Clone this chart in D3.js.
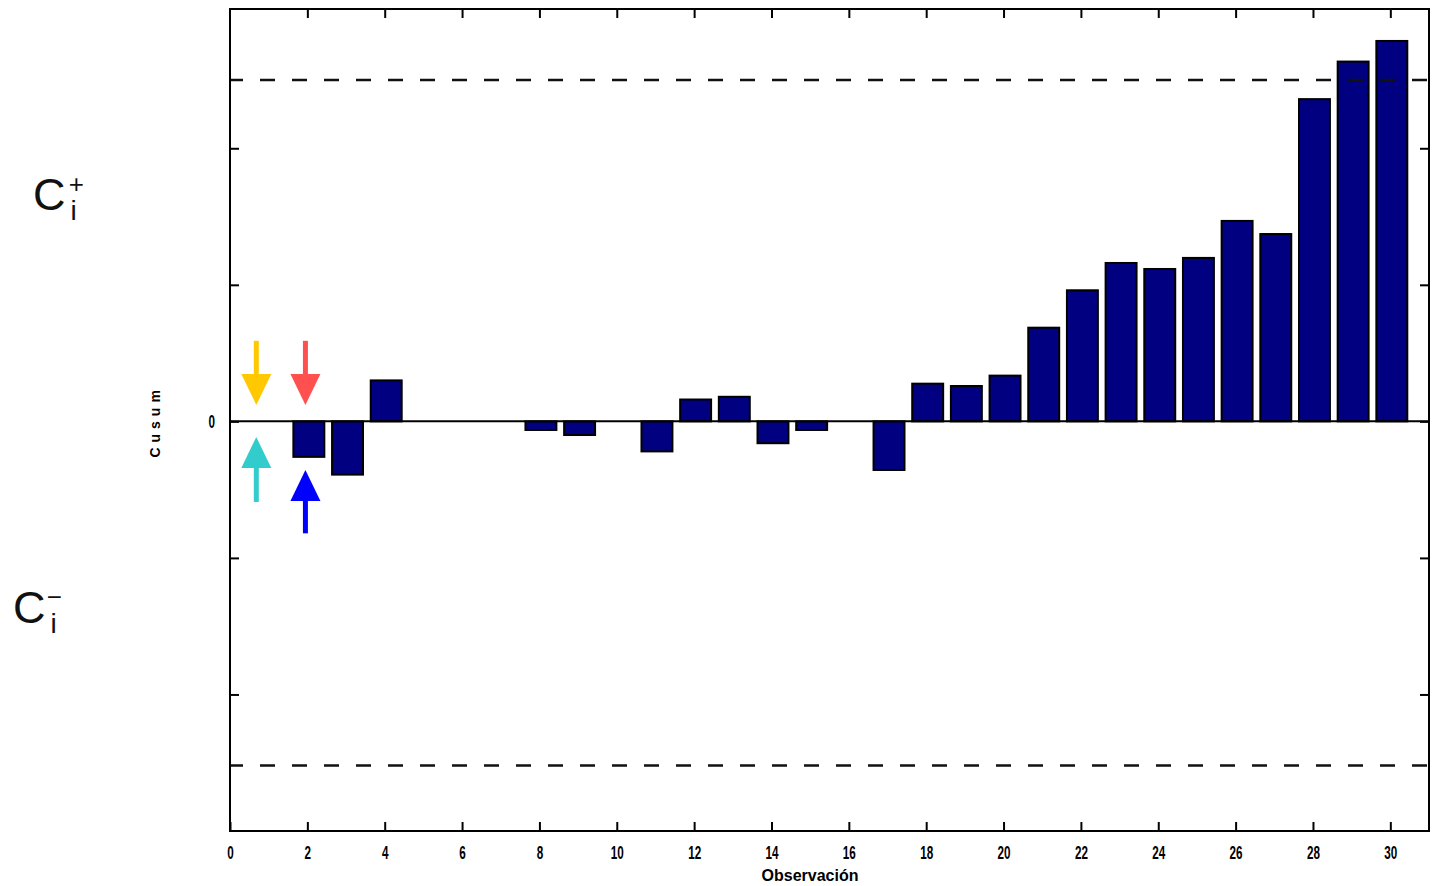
<html>
<head>
<meta charset="utf-8">
<style>
  body { margin: 0; background: #fff; }
  svg { display: block; }
  text { font-family: "Liberation Sans", Arial, sans-serif; }
</style>
</head>
<body>
<script src="https://d3js.org/d3.v7.min.js"></script>
<script type="text/javascript">
// observations 1..30 and their cusum values
var obs = d3.range(1, 31);
var cusum = [0, -0.26, -0.39, 0.30, 0, 0, 0, -0.063, -0.10, 0,
             -0.22, 0.16, 0.18, -0.16, -0.063, 0, -0.356, 0.276, 0.259, 0.335,
             0.686, 0.96, 1.16, 1.116, 1.197, 1.468, 1.372, 2.36, 2.635, 2.786];
var limits = [2.5, -2.52];
var xTicks = d3.range(0, 31, 2);
var yTicks = [-2, -1, 0, 1, 2];
// arrows: x position, tail value, tip value, colour
var arrows = [
  {x: 0.68, from: 0.59, to: 0.12, color: "#ffc800"},
  {x: 1.95, from: 0.59, to: 0.12, color: "#ff5050"},
  {x: 0.68, from: -0.59, to: -0.114, color: "#33cccc"},
  {x: 1.95, from: -0.82, to: -0.356, color: "#0000ff"}
];

var W = 1432, H = 886;
var svg = d3.select("body").append("svg").attr("width", W).attr("height", H);

var xMax = 31;
var x = d3.scaleLinear().domain([0, xMax]).range([230, 1429]);
var y = d3.scaleLinear().domain([-3, 3.02]).range([831, 9]);
var bw = (x(0.8) - x(0));
var shift = 1.5; // bars sit slightly right of the ticks in the original

// bars
svg.selectAll("rect.bar").data(obs.filter(function(d, i){ return cusum[i] != 0; }))
  .enter().append("rect")
  .attr("class", "bar")
  .attr("x", function(d){ return x(d) - bw/2 + shift; })
  .attr("width", bw)
  .attr("y", function(d){ return y(Math.max(0, cusum[d-1])); })
  .attr("height", function(d){ return Math.abs(y(cusum[d-1]) - y(0)); })
  .attr("fill", "#000080")
  .attr("stroke", "black")
  .attr("stroke-width", 2);

// zero line
svg.append("line")
  .attr("x1", x(0)).attr("x2", x(xMax))
  .attr("y1", y(0)).attr("y2", y(0))
  .attr("stroke", "black").attr("stroke-width", 2);

// decision limits
svg.selectAll("line.lim").data(limits).enter().append("line")
  .attr("class", "lim")
  .attr("x1", x(0)).attr("x2", x(xMax))
  .attr("y1", function(d){ return y(d); })
  .attr("y2", function(d){ return y(d); })
  .attr("stroke", "#111").attr("stroke-width", 2.5)
  .attr("stroke-dasharray", "15,17")
  .attr("stroke-dashoffset", 2);

// frame + ticks via axes
var tl = 9;
var tickFont = function(sel){
  sel.attr("font-size", 18).attr("font-weight", "bold")
     .attr("font-family", "'Liberation Sans', Arial, sans-serif")
     .attr("transform", "scale(0.65,1)");
};
svg.append("g").attr("transform", "translate(0," + y(-3) + ")")
  .call(d3.axisBottom(x).tickValues(xTicks).tickSizeInner(-tl).tickSizeOuter(0).tickPadding(15))
  .call(function(g){
    g.select(".domain").remove();
    g.selectAll("line").attr("stroke-width", 2);
    g.selectAll("text").call(tickFont);
  });

svg.append("g").attr("transform", "translate(0," + y(3.02) + ")")
  .call(d3.axisTop(x).tickValues(xTicks.slice(1)).tickSizeInner(-tl).tickSizeOuter(0).tickFormat(""))
  .call(function(g){ g.select(".domain").remove(); g.selectAll("line").attr("stroke-width", 2); });

svg.append("g").attr("transform", "translate(" + x(0) + ",0)")
  .call(d3.axisLeft(y).tickValues(yTicks).tickSizeInner(-tl).tickSizeOuter(0)
    .tickFormat(function(d){ return d == 0 ? "0" : ""; }))
  .call(function(g){
    g.select(".domain").remove();
    g.selectAll("line").attr("stroke-width", 2);
    g.selectAll("text").call(tickFont).attr("x", -23);
  });

svg.append("g").attr("transform", "translate(" + x(xMax) + ",0)")
  .call(d3.axisRight(y).tickValues(yTicks).tickSizeInner(-tl).tickSizeOuter(0).tickFormat(""))
  .call(function(g){ g.select(".domain").remove(); g.selectAll("line").attr("stroke-width", 2); });

svg.append("rect")
  .attr("x", x(0)).attr("y", y(3.02))
  .attr("width", x(xMax) - x(0)).attr("height", y(-3) - y(3.02))
  .attr("fill", "none").attr("stroke", "black").attr("stroke-width", 2);

// axis titles
svg.append("text")
  .attr("transform", "translate(160," + y(0) + ") rotate(-90)")
  .attr("text-anchor", "middle")
  .attr("font-size", 14).attr("font-weight", "bold")
  .attr("letter-spacing", 5)
  .attr("font-family", "'DejaVu Sans Condensed', sans-serif")
  .text("Cusum");

svg.append("text")
  .attr("x", 810).attr("y", 881)
  .attr("text-anchor", "middle")
  .attr("font-size", 16).attr("font-weight", "bold")
  .attr("font-family", "'DejaVu Sans Condensed', sans-serif")
  .text("Observación");

// C_i+ and C_i- labels
function cLabel(cx, cy, sign, dxSign) {
  var t = svg.append("text").attr("x", cx).attr("y", cy)
    .attr("font-size", 45).attr("fill", "#111");
  t.append("tspan").text("C");
  t.append("tspan").attr("font-size", 28).attr("dy", 10).attr("dx", 5).text("i");
  t.append("tspan").attr("font-size", 26).attr("dx", dxSign).attr("dy", -27).text(sign);
}
cLabel(33, 210, "+", -8);
cLabel(13, 623, "\u2212", -10);

// arrows
var headL = 31, headW = 30, shaftW = 5;
arrows.forEach(function(a){
  var ax = x(a.x), y0 = y(a.from), y1 = y(a.to);
  var dir = y1 > y0 ? 1 : -1;
  var yb = y1 - dir * headL;
  svg.append("line").attr("x1", ax).attr("x2", ax).attr("y1", y0).attr("y2", yb)
    .attr("stroke", a.color).attr("stroke-width", shaftW);
  svg.append("path")
    .attr("d", "M" + (ax - headW/2) + "," + yb + "L" + (ax + headW/2) + "," + yb + "L" + ax + "," + y1 + "Z")
    .attr("fill", a.color);
});
</script>
</body>
</html>
